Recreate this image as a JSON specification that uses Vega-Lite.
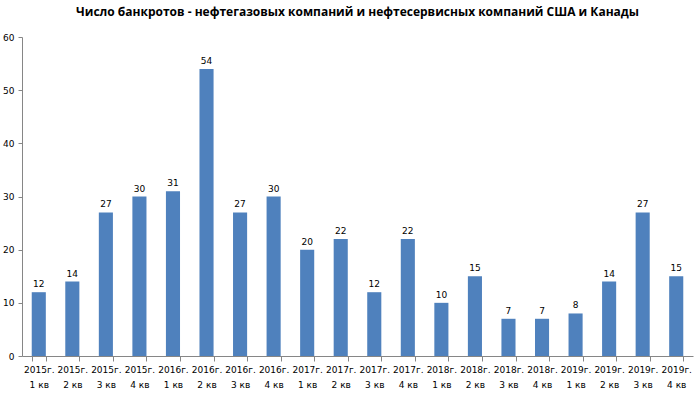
{
  "$schema": "https://vega.github.io/schema/vega-lite/v6.json",
  "width": 671,
  "height": 319,
  "autosize": {"type": "none"},
  "padding": {"left": 22, "top": 37, "right": 7, "bottom": 37},
  "background": "white",
  "title": {
    "text": "Число банкротов - нефтегазовых компаний и нефтесервисных компаний США и Канады",
    "font": "Open Sans",
    "fontSize": 12,
    "fontWeight": "bold",
    "color": "#000000",
    "anchor": "middle",
    "offset": 14
  },
  "data": {
    "values": [
      {"q": "2015г. 1 кв", "n": 12},
      {"q": "2015г. 2 кв", "n": 14},
      {"q": "2015г. 3 кв", "n": 27},
      {"q": "2015г. 4 кв", "n": 30},
      {"q": "2016г. 1 кв", "n": 31},
      {"q": "2016г. 2 кв", "n": 54},
      {"q": "2016г. 3 кв", "n": 27},
      {"q": "2016г. 4 кв", "n": 30},
      {"q": "2017г. 1 кв", "n": 20},
      {"q": "2017г. 2 кв", "n": 22},
      {"q": "2017г. 3 кв", "n": 12},
      {"q": "2017г. 4 кв", "n": 22},
      {"q": "2018г. 1 кв", "n": 10},
      {"q": "2018г. 2 кв", "n": 15},
      {"q": "2018г. 3 кв", "n": 7},
      {"q": "2018г. 4 кв", "n": 7},
      {"q": "2019г. 1 кв", "n": 8},
      {"q": "2019г. 2 кв", "n": 14},
      {"q": "2019г. 3 кв", "n": 27},
      {"q": "2019г. 4 кв", "n": 15}
    ]
  },
  "encoding": {
    "x": {
      "field": "q",
      "type": "nominal",
      "sort": null,
      "scale": {"paddingInner": 0.58, "paddingOuter": 0.29},
      "axis": {
        "title": null,
        "labelAngle": 0,
        "labelExpr": "[slice(datum.label, 0, 6), slice(datum.label, 7)]",
        "labelFont": "DejaVu Sans",
        "labelFontSize": 9,
        "labelColor": "#000000",
        "labelLineHeight": 15,
        "labelPadding": 4,
        "tickBand": "extent",
        "tickSize": 5,
        "tickColor": "#868686",
        "domainColor": "#868686",
        "labelBaseline": "top"
      }
    },
    "y": {
      "field": "n",
      "type": "quantitative",
      "scale": {"domain": [0, 60], "nice": false},
      "axis": {
        "title": null,
        "values": [0, 10, 20, 30, 40, 50, 60],
        "grid": false,
        "labelFont": "DejaVu Sans",
        "labelFontSize": 9,
        "labelColor": "#000000",
        "tickSize": 4,
        "tickColor": "#868686",
        "domainColor": "#868686",
        "labelPadding": 4
      }
    }
  },
  "layer": [
    {"mark": {"type": "bar", "color": "#4F81BD"}},
    {
      "mark": {"type": "text", "dy": -8, "font": "DejaVu Sans", "fontSize": 9, "color": "#000000"},
      "encoding": {"text": {"field": "n", "type": "quantitative"}}
    }
  ],
  "config": {"view": {"stroke": null}}
}
